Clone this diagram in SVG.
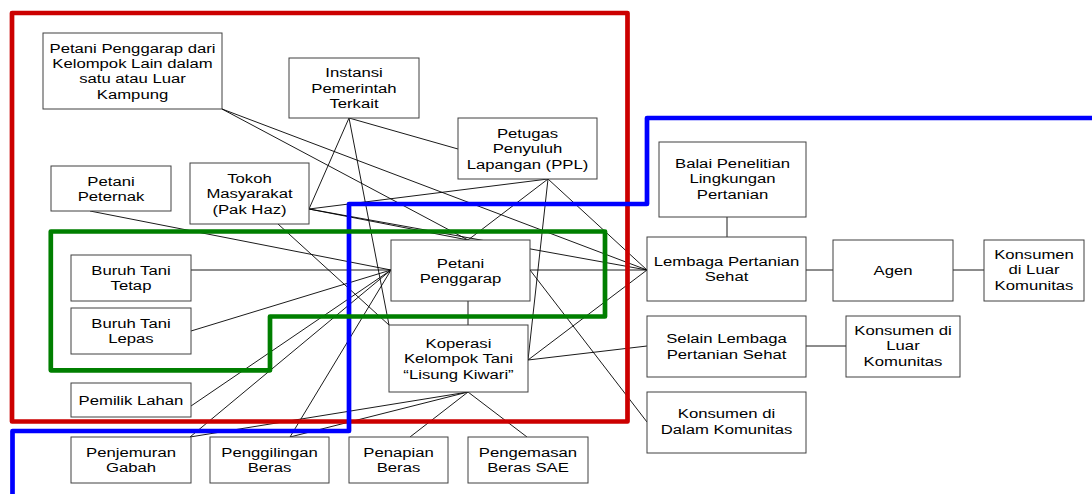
<svg xmlns="http://www.w3.org/2000/svg" width="1092" height="494" viewBox="0 0 1092 494">
<style>
.b{fill:#fff;stroke:#404040;stroke-width:1}
.t{font-family:"Liberation Sans",Arial,sans-serif;font-size:13.3px;fill:#000;text-anchor:middle}
.c line{stroke:#000;stroke-width:0.9}
.reg{fill:none;stroke-width:4.7;stroke-linejoin:round}
</style>
<rect width="1092" height="494" fill="#fff"/>
<g id="connectors" class="c">
<line x1="90" y1="211" x2="391" y2="270"/>
<line x1="191" y1="270" x2="391" y2="270"/>
<line x1="191" y1="331" x2="391" y2="270"/>
<line x1="191" y1="406" x2="391" y2="270"/>
<line x1="190" y1="437" x2="391" y2="270"/>
<line x1="290" y1="437" x2="391" y2="270"/>
<line x1="190" y1="437" x2="468" y2="392"/>
<line x1="290" y1="437" x2="468" y2="392"/>
<line x1="468" y1="392" x2="410" y2="437"/>
<line x1="468" y1="392" x2="527" y2="437"/>
<line x1="222" y1="109" x2="468" y2="240"/>
<line x1="222" y1="109" x2="647" y2="270"/>
<line x1="349" y1="118" x2="309" y2="209"/>
<line x1="349" y1="118" x2="389" y2="325"/>
<line x1="349" y1="118" x2="458" y2="149"/>
<line x1="278" y1="224" x2="389" y2="325"/>
<line x1="309" y1="209" x2="548" y2="179"/>
<line x1="309" y1="209" x2="468" y2="240"/>
<line x1="309" y1="209" x2="647" y2="270"/>
<line x1="548" y1="179" x2="468" y2="240"/>
<line x1="548" y1="179" x2="528" y2="360"/>
<line x1="548" y1="179" x2="647" y2="270"/>
<line x1="530" y1="270" x2="647" y2="270"/>
<line x1="530" y1="270" x2="647" y2="422"/>
<line x1="528" y1="360" x2="647" y2="270"/>
<line x1="528" y1="360" x2="647" y2="346"/>
<line x1="468" y1="301" x2="468" y2="325"/>
<line x1="727" y1="217" x2="727" y2="237"/>
<line x1="806" y1="270" x2="833" y2="270"/>
<line x1="953" y1="270" x2="984" y2="270"/>
<line x1="806" y1="346" x2="846" y2="346"/>
</g>
<g id="regions">
<rect class="reg" x="12" y="13" width="615.5" height="408.5" stroke="#cc0000"/>
<polyline class="reg" points="1092,118 647,118 647,204 349,204 349,431 12.5,431 12.5,494" stroke="#0000ff"/>
<polygon class="reg" points="50.8,231.5 605,231.5 605,316.5 270,316.5 270,370.3 50.8,370.3" stroke="#007f00"/>
</g>
<g id="n1"><rect class="b" x="43" y="33" width="179" height="76"/><text class="t" transform="translate(132.5,0) scale(1.255,1)"><tspan x="0" y="52.9">Petani Penggarap dari</tspan><tspan x="0" y="68.2">Kelompok Lain dalam</tspan><tspan x="0" y="83.5">satu atau Luar</tspan><tspan x="0" y="98.8">Kampung</tspan></text></g>
<g id="n2"><rect class="b" x="289" y="58" width="130" height="60"/><text class="t" transform="translate(354,0) scale(1.255,1)"><tspan x="0" y="77.5">Instansi</tspan><tspan x="0" y="92.8">Pemerintah</tspan><tspan x="0" y="108.1">Terkait</tspan></text></g>
<g id="n3"><rect class="b" x="458" y="118" width="139" height="61"/><text class="t" transform="translate(527.5,0) scale(1.255,1)"><tspan x="0" y="138">Petugas</tspan><tspan x="0" y="153.3">Penyuluh</tspan><tspan x="0" y="168.6">Lapangan (PPL)</tspan></text></g>
<g id="n4"><rect class="b" x="51" y="166" width="120" height="45"/><text class="t" transform="translate(111,0) scale(1.255,1)"><tspan x="0" y="185.6">Petani</tspan><tspan x="0" y="200.9">Peternak</tspan></text></g>
<g id="n5"><rect class="b" x="190" y="163" width="119" height="61"/><text class="t" transform="translate(249.5,0) scale(1.255,1)"><tspan x="0" y="183">Tokoh</tspan><tspan x="0" y="198.3">Masyarakat</tspan><tspan x="0" y="213.6">(Pak Haz)</tspan></text></g>
<g id="n6"><rect class="b" x="659" y="142" width="147" height="75"/><text class="t" transform="translate(732.5,0) scale(1.255,1)"><tspan x="0" y="168">Balai Penelitian</tspan><tspan x="0" y="183.3">Lingkungan</tspan><tspan x="0" y="198.6">Pertanian</tspan></text></g>
<g id="n7"><rect class="b" x="647" y="237" width="159" height="64"/><text class="t" transform="translate(726.5,0) scale(1.255,1)"><tspan x="0" y="266.1">Lembaga Pertanian</tspan><tspan x="0" y="281.4">Sehat</tspan></text></g>
<g id="n8"><rect class="b" x="833" y="240" width="120" height="61"/><text class="t" transform="translate(893,0) scale(1.255,1)"><tspan x="0" y="275">Agen</tspan></text></g>
<g id="n9"><rect class="b" x="984" y="240" width="100" height="61"/><text class="t" transform="translate(1034,0) scale(1.255,1)"><tspan x="0" y="259">Konsumen</tspan><tspan x="0" y="274.3">di Luar</tspan><tspan x="0" y="289.6">Komunitas</tspan></text></g>
<g id="n10"><rect class="b" x="71" y="255" width="120" height="46"/><text class="t" transform="translate(131,0) scale(1.255,1)"><tspan x="0" y="275.1">Buruh Tani</tspan><tspan x="0" y="290.4">Tetap</tspan></text></g>
<g id="n11"><rect class="b" x="71" y="308" width="120" height="46"/><text class="t" transform="translate(131,0) scale(1.255,1)"><tspan x="0" y="328.1">Buruh Tani</tspan><tspan x="0" y="343.4">Lepas</tspan></text></g>
<g id="n12"><rect class="b" x="71" y="383" width="120" height="34"/><text class="t" transform="translate(131,0) scale(1.255,1)"><tspan x="0" y="404.8">Pemilik Lahan</tspan></text></g>
<g id="n13"><rect class="b" x="71" y="437" width="120" height="46"/><text class="t" transform="translate(131,0) scale(1.255,1)"><tspan x="0" y="456.8">Penjemuran</tspan><tspan x="0" y="472.1">Gabah</tspan></text></g>
<g id="n14"><rect class="b" x="210" y="437" width="119" height="46"/><text class="t" transform="translate(269.5,0) scale(1.255,1)"><tspan x="0" y="456.8">Penggilingan</tspan><tspan x="0" y="472.1">Beras</tspan></text></g>
<g id="n15"><rect class="b" x="349" y="437" width="99" height="46"/><text class="t" transform="translate(398.5,0) scale(1.255,1)"><tspan x="0" y="456.8">Penapian</tspan><tspan x="0" y="472.1">Beras</tspan></text></g>
<g id="n16"><rect class="b" x="468" y="437" width="120" height="46"/><text class="t" transform="translate(528,0) scale(1.255,1)"><tspan x="0" y="456.8">Pengemasan</tspan><tspan x="0" y="472.1">Beras SAE</tspan></text></g>
<g id="n17"><rect class="b" x="391" y="240" width="139" height="61"/><text class="t" transform="translate(460.5,0) scale(1.255,1)"><tspan x="0" y="267.6">Petani</tspan><tspan x="0" y="282.9">Penggarap</tspan></text></g>
<g id="n18"><rect class="b" x="389" y="325" width="139" height="67"/><text class="t" transform="translate(458.5,0) scale(1.255,1)"><tspan x="0" y="348">Koperasi</tspan><tspan x="0" y="363.3">Kelompok Tani</tspan><tspan x="0" y="378.6">“Lisung Kiwari”</tspan></text></g>
<g id="n19"><rect class="b" x="647" y="316" width="159" height="61"/><text class="t" transform="translate(726.5,0) scale(1.255,1)"><tspan x="0" y="343.5">Selain Lembaga</tspan><tspan x="0" y="358.8">Pertanian Sehat</tspan></text></g>
<g id="n20"><rect class="b" x="846" y="316" width="114" height="61"/><text class="t" transform="translate(903,0) scale(1.255,1)"><tspan x="0" y="335">Konsumen di</tspan><tspan x="0" y="350.3">Luar</tspan><tspan x="0" y="365.6">Komunitas</tspan></text></g>
<g id="n21"><rect class="b" x="647" y="392" width="159" height="61"/><text class="t" transform="translate(726.5,0) scale(1.255,1)"><tspan x="0" y="418.5">Konsumen di</tspan><tspan x="0" y="433.8">Dalam Komunitas</tspan></text></g>
</svg>
